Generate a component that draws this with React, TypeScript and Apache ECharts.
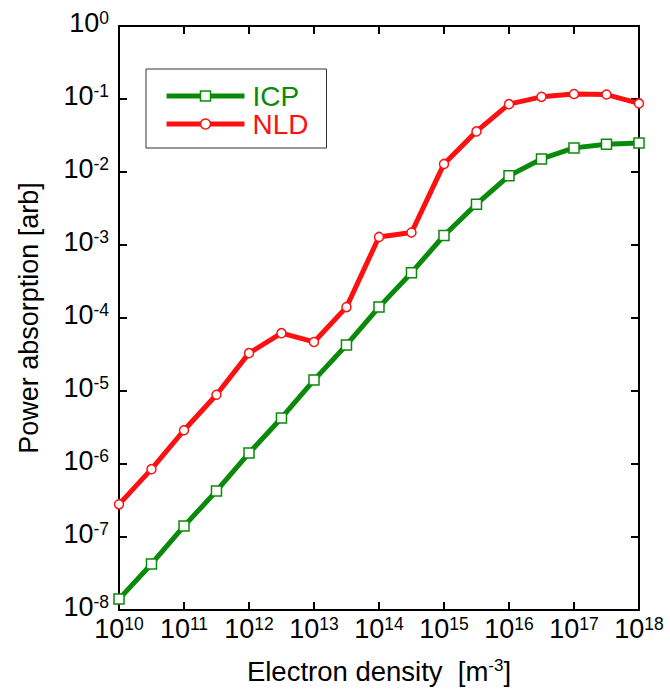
import React, { useEffect, useRef } from "react";
import * as echarts from "echarts";

// Electron density [m^-3]
const densities = [
  1e10, 3.16e10, 1e11, 3.16e11, 1e12, 3.16e12, 1e13, 3.16e13, 1e14,
  3.16e14, 1e15, 3.16e15, 1e16, 3.16e16, 1e17, 3.16e17, 1e18,
];
// Power absorption [arb]
const icpValues = [
  1.41e-8, 4.27e-8, 1.41e-7, 4.27e-7, 1.41e-6, 4.27e-6, 1.41e-5, 4.27e-5,
  1.41e-4, 4.17e-4, 1.35e-3, 3.63e-3, 8.9e-3, 1.51e-2, 2.14e-2, 2.4e-2, 2.5e-2,
];
const nldValues = [
  2.8e-7, 8.5e-7, 2.9e-6, 8.9e-6, 3.3e-5, 6.2e-5, 4.7e-5, 1.41e-4, 1.29e-3,
  1.48e-3, 1.29e-2, 3.6e-2, 8.5e-2, 1.07e-1, 1.17e-1, 1.15e-1, 8.7e-2,
];
const seriesNames = ["ICP", "NLD"];
const xRange = [1e10, 1e18];
const yRange = [1e-8, 1e0];

const GREEN = "#0a8a0a";
const RED = "#ff1010";
const FONT = "Liberation Sans, Arial, Helvetica, sans-serif";

const supFormatter = (v: number) => {
  const e = Math.round(Math.log10(v));
  return `{b|10}{s|${e}}`;
};

const rich = {
  b: { fontSize: 27, fontFamily: FONT, color: "#000", lineHeight: 27 },
  s: { fontSize: 17.5, fontFamily: FONT, color: "#000", lineHeight: 27, verticalAlign: "top" as const },
};

export default function App() {
  const ref = useRef<HTMLDivElement>(null);

  useEffect(() => {
    if (!ref.current) return;
    const chart = echarts.init(ref.current, null, { renderer: "svg" });

    const axisLine = { show: true, lineStyle: { color: "#000", width: 2 } };
    const axisTick = { show: true, inside: true, length: 8, lineStyle: { color: "#000", width: 2 } };

    const toPairs = (vals: number[]) => densities.map((x, i) => [x, vals[i]]);

    chart.setOption({
      animation: false,
      backgroundColor: "#fff",
      grid: { left: 119, right: 31, top: 26, bottom: 78, containLabel: false },
      legend: {
        orient: "vertical",
        left: 146,
        top: 69,
        padding: [13, 18, 10, 18],
        itemGap: 0,
        itemWidth: 78,
        itemHeight: 12.5,
        borderColor: "#333",
        borderWidth: 1,
        backgroundColor: "#fff",
        lineStyle: { width: 5 },
        itemStyle: { borderWidth: 1.5 },
        textStyle: { fontSize: 28, fontFamily: FONT, lineHeight: 25, padding: [0, 0, 0, 3] },
        data: [
          { name: seriesNames[0], textStyle: { color: GREEN } },
          { name: seriesNames[1], textStyle: { color: RED } },
        ],
      },
      xAxis: [
        {
          type: "log",
          logBase: 10,
          min: xRange[0],
          max: xRange[1],
          splitNumber: 8,
          position: "bottom",
          axisLine,
          axisTick,
          splitLine: { show: false },
          minorTick: { show: false },
          axisLabel: {
            formatter: supFormatter,
            rich,
            margin: 5,
            interval: 0,
            showMinLabel: true,
            showMaxLabel: true,
            hideOverlap: false,
          },
          name: "{a|Electron density  [m}{s|-3}{a|]}",
          nameLocation: "middle",
          nameGap: 47,
          nameTextStyle: {
            rich: {
              a: { fontSize: 27.5, fontFamily: FONT, color: "#000", lineHeight: 28 },
              s: { fontSize: 17, fontFamily: FONT, color: "#000", lineHeight: 28, verticalAlign: "top" },
            },
          },
        },
        {
          type: "log",
          logBase: 10,
          min: xRange[0],
          max: xRange[1],
          splitNumber: 8,
          position: "top",
          axisLine,
          axisTick,
          splitLine: { show: false },
          axisLabel: { show: false },
        },
      ],
      yAxis: [
        {
          type: "log",
          logBase: 10,
          min: yRange[0],
          max: yRange[1],
          splitNumber: 8,
          position: "left",
          axisLine,
          axisTick,
          splitLine: { show: false },
          minorTick: { show: false },
          axisLabel: {
            formatter: supFormatter,
            rich,
            margin: 10,
            padding: [0, 0, 7, 0],
            showMinLabel: true,
            showMaxLabel: true,
            hideOverlap: false,
          },
          name: "Power absorption [arb]",
          nameLocation: "middle",
          nameGap: 77,
          nameTextStyle: { fontSize: 27, fontFamily: FONT, color: "#000" },
        },
        {
          type: "log",
          logBase: 10,
          min: yRange[0],
          max: yRange[1],
          splitNumber: 8,
          position: "right",
          axisLine,
          axisTick,
          splitLine: { show: false },
          axisLabel: { show: false },
        },
      ],
      series: [
        {
          name: seriesNames[0],
          type: "line",
          xAxisIndex: 0,
          yAxisIndex: 0,
          data: toPairs(icpValues),
          symbol: "rect",
          symbolSize: 10,
          showAllSymbol: true,
          clip: false,
          z: 3,
          lineStyle: { color: GREEN, width: 5 },
          itemStyle: { color: "#fff", borderColor: GREEN, borderWidth: 1.5 },
        },
        {
          name: seriesNames[1],
          type: "line",
          xAxisIndex: 0,
          yAxisIndex: 0,
          data: toPairs(nldValues),
          symbol: "circle",
          symbolSize: 9,
          showAllSymbol: true,
          clip: false,
          z: 4,
          lineStyle: { color: RED, width: 5 },
          itemStyle: { color: "#fff", borderColor: RED, borderWidth: 1.5 },
        },
      ],
    });

    return () => chart.dispose();
  }, []);

  return (
    <div
      ref={ref}
      style={{ position: "absolute", left: 0, top: 0, width: 670, height: 690 }}
    />
  );
}
